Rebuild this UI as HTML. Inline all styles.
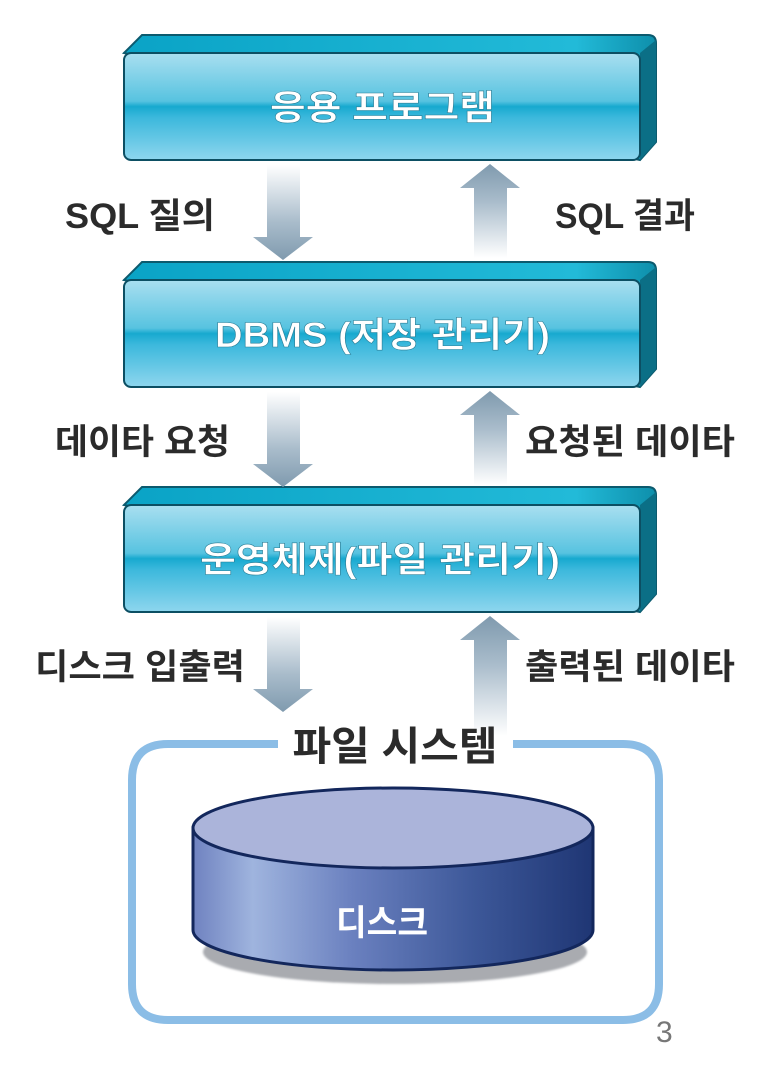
<!DOCTYPE html>
<html><head><meta charset="utf-8"><style>
html,body{margin:0;padding:0;background:#fff;}
svg{display:block;}
text{font-family:"Liberation Sans","Noto Sans CJK KR","NanumGothic",sans-serif;}
</style></head><body>
<svg width="778" height="1070" viewBox="0 0 778 1070" xmlns="http://www.w3.org/2000/svg">
<defs>
<linearGradient id="face" x1="0" y1="0" x2="0" y2="1">
<stop offset="0" stop-color="#a9dff0"/><stop offset="0.45" stop-color="#57c3e0"/>
<stop offset="0.5" stop-color="#17a9cf"/><stop offset="0.6" stop-color="#3bb8dc"/>
<stop offset="1" stop-color="#8ed6ee"/></linearGradient>
<linearGradient id="top" x1="0" y1="0" x2="1" y2="0">
<stop offset="0" stop-color="#0aa3c6"/><stop offset="0.85" stop-color="#22bad8"/><stop offset="1" stop-color="#0e8fab"/></linearGradient>
<linearGradient id="down" x1="0" y1="0" x2="0" y2="1">
<stop offset="0" stop-color="#fff"/><stop offset="0.6" stop-color="#a9bccb"/><stop offset="1" stop-color="#7f9aae"/></linearGradient>
<linearGradient id="up" x1="0" y1="1" x2="0" y2="0">
<stop offset="0" stop-color="#fff"/><stop offset="0.6" stop-color="#a9bccb"/><stop offset="1" stop-color="#7f9aae"/></linearGradient>
<linearGradient id="cyl" x1="0" y1="0" x2="1" y2="0">
<stop offset="0" stop-color="#6f82c0"/><stop offset="0.15" stop-color="#9fb4de"/><stop offset="0.4" stop-color="#6a80bf"/>
<stop offset="0.7" stop-color="#3d5899"/><stop offset="1" stop-color="#1f3674"/></linearGradient>
<filter id="sh"><feGaussianBlur stdDeviation="1"/></filter>
</defs>

<g>
<path d="M124,53 L142,35 L648,35 Q656,35 656,43 L656,142 L640,160 Z" fill="url(#top)" stroke="#0c5a6e" stroke-width="2"/>
<path d="M640,53 L656,40 L656,142 L640,160 Z" fill="#0b6f86"/>
<rect x="124" y="53" width="516" height="107" rx="7" fill="url(#face)" stroke="#0c4f63" stroke-width="2"/>
<text x="270" y="120" font-size="35" font-weight="bold" fill="#fff" stroke="#2a7f98" stroke-width="0.6" textLength="225" lengthAdjust="spacingAndGlyphs">응용 프로그램</text>
</g>
<g>
<path d="M124,280 L142,262 L648,262 Q656,262 656,270 L656,369 L640,387 Z" fill="url(#top)" stroke="#0c5a6e" stroke-width="2"/>
<path d="M640,280 L656,267 L656,369 L640,387 Z" fill="#0b6f86"/>
<rect x="124" y="280" width="516" height="107" rx="7" fill="url(#face)" stroke="#0c4f63" stroke-width="2"/>
<text x="215" y="347" font-size="35" font-weight="bold" fill="#fff" stroke="#2a7f98" stroke-width="0.6" textLength="335" lengthAdjust="spacingAndGlyphs">DBMS (저장 관리기)</text>
</g>
<g>
<path d="M124,505 L142,487 L648,487 Q656,487 656,495 L656,594 L640,612 Z" fill="url(#top)" stroke="#0c5a6e" stroke-width="2"/>
<path d="M640,505 L656,492 L656,594 L640,612 Z" fill="#0b6f86"/>
<rect x="124" y="505" width="516" height="107" rx="7" fill="url(#face)" stroke="#0c4f63" stroke-width="2"/>
<text x="200" y="572" font-size="35" font-weight="bold" fill="#fff" stroke="#2a7f98" stroke-width="0.6" textLength="360" lengthAdjust="spacingAndGlyphs">운영체제(파일 관리기)</text>
</g>

<path d="M267,165 L300,165 L300,237 L313,237 L283,260 L253,237 L267,237 Z" fill="url(#down)"/>
<path d="M474,258 L507,258 L507,188 L520,188 L490,164 L460,188 L474,188 Z" fill="url(#up)"/>
<path d="M267,392 L300,392 L300,464 L313,464 L283,487 L253,464 L267,464 Z" fill="url(#down)"/>
<path d="M474,485 L507,485 L507,415 L520,415 L490,391 L460,415 L474,415 Z" fill="url(#up)"/>
<path d="M267,617 L300,617 L300,689 L313,689 L283,712 L253,689 L267,689 Z" fill="url(#down)"/>
<path d="M474,736 L507,736 L507,640 L520,640 L490,616 L460,640 L474,640 Z" fill="url(#up)"/>

<g font-size="35" fill="#2b2b2b" font-weight="bold">
<text x="65" y="228" textLength="150" lengthAdjust="spacingAndGlyphs">SQL 질의</text>
<text x="555" y="228" textLength="140" lengthAdjust="spacingAndGlyphs">SQL 결과</text>
<text x="55" y="454" textLength="175" lengthAdjust="spacingAndGlyphs">데이타 요청</text>
<text x="525" y="454" textLength="210" lengthAdjust="spacingAndGlyphs">요청된 데이타</text>
<text x="35" y="679" textLength="210" lengthAdjust="spacingAndGlyphs">디스크 입출력</text>
<text x="525" y="679" textLength="210" lengthAdjust="spacingAndGlyphs">출력된 데이타</text>
</g>

<path d="M278,744 L168,744 Q132,744 132,780 L132,984 Q132,1020 168,1020 L623,1020 Q659,1020 659,984 L659,780 Q659,744 623,744 L513,744" fill="none" stroke="#8bbde6" stroke-width="8"/>
<text x="395" y="760" font-size="40" fill="#2b2b2b" font-weight="bold" text-anchor="middle" textLength="205" lengthAdjust="spacingAndGlyphs">파일 시스템</text>

<ellipse cx="395" cy="952" rx="192" ry="32" fill="#a9abb0" filter="url(#sh)"/>
<path d="M193,828 L193,930 A200,40 0 0 0 593,930 L593,828 Z" fill="url(#cyl)" stroke="#13275c" stroke-width="3"/>
<ellipse cx="393" cy="828" rx="200" ry="40" fill="#abb4da" stroke="#13275c" stroke-width="3"/>
<text x="336" y="935" font-size="35" font-weight="bold" fill="#fff" textLength="92" lengthAdjust="spacingAndGlyphs">디스크</text>

<text x="656" y="1042" font-size="30" fill="#777">3</text>
</svg>
</body></html>
